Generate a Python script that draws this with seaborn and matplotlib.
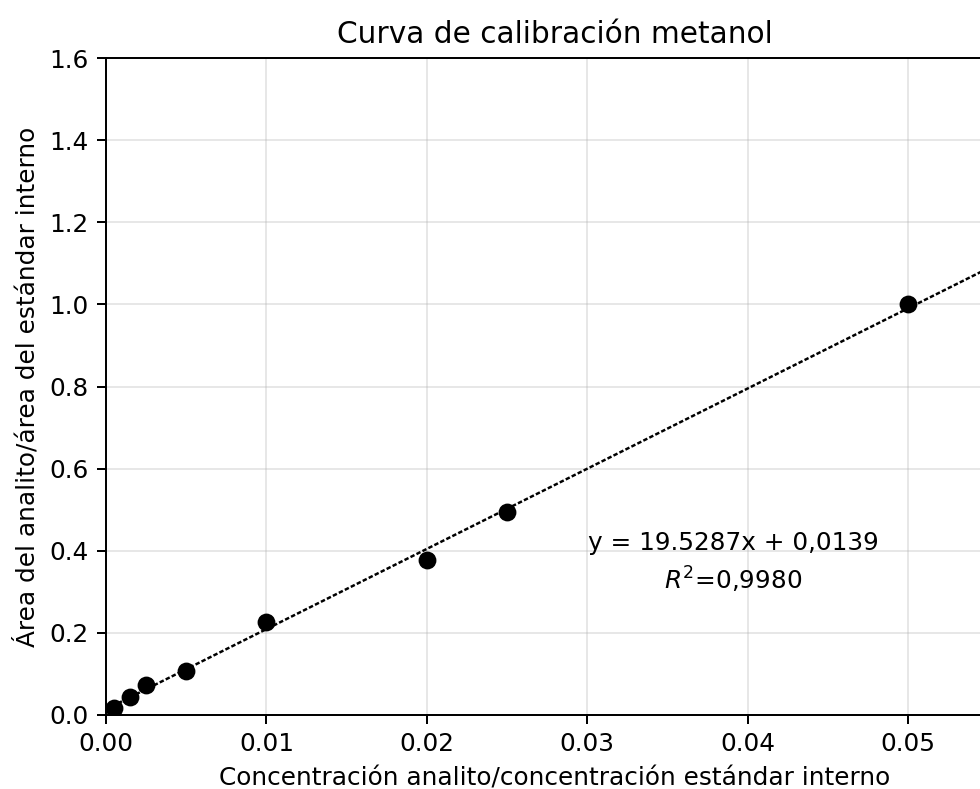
import numpy as np
import pandas as pd
import matplotlib
matplotlib.use("Agg")
import matplotlib.pyplot as plt
import seaborn as sns

# Calibration standards: concentration ratio vs. area ratio
conc_ratio = [0.0005, 0.0015, 0.0025, 0.005, 0.01, 0.02, 0.025, 0.05]
area_ratio = [0.017, 0.045, 0.073, 0.108, 0.226, 0.378, 0.495, 1.000]

# Linear fit reported on the chart
slope = 19.5287
intercept = 0.0139
r2 = 0.9980

x_ticks = [0.00, 0.01, 0.02, 0.03, 0.04, 0.05]
y_ticks = [0.0, 0.2, 0.4, 0.6, 0.8, 1.0, 1.2, 1.4, 1.6]
x_max = 0.056

df = pd.DataFrame({"conc": conc_ratio, "area": area_ratio})
fit_x = np.array([0.0, x_max])
fit_df = pd.DataFrame({"x": fit_x, "y": slope * fit_x + intercept})

dpi = 178
W, H = 980, 789
fig = plt.figure(figsize=(W / dpi, H / dpi), dpi=dpi)
left_px, top_px, bottom_px = 106, 58, 715
px_per_unit = (908 - 106) / 0.05
right_px = left_px + x_max * px_per_unit
ax = fig.add_axes([left_px / W, 1 - bottom_px / H,
                   (right_px - left_px) / W, (bottom_px - top_px) / H])

sns.lineplot(data=fit_df, x="x", y="y", ax=ax, color="black",
             linestyle=(0, (1.8, 0.9)), linewidth=1.0, zorder=2)
sns.scatterplot(data=df, x="conc", y="area", ax=ax, color="black",
                s=52, linewidth=0, zorder=3)

ax.set_xlim(0, x_max)
ax.set_ylim(0, 1.6)
ax.set_xticks(x_ticks)
ax.set_yticks(y_ticks)
ax.xaxis.set_major_formatter(matplotlib.ticker.FormatStrFormatter("%.2f"))
ax.yaxis.set_major_formatter(matplotlib.ticker.FormatStrFormatter("%.1f"))
ax.grid(True, alpha=0.3)
ax.set_axisbelow(True)

ax.set_title("Curva de calibración metanol", fontsize=12)
ax.set_xlabel("Concentración analito/concentración estándar interno")
ax.set_ylabel("Área del analito/área del estándar interno")

ax.text(0.0391, 0.42, f"y = {slope}x + {intercept:.4f}".replace("+ 0.", "+ 0,"),
        ha="center", va="center")
ax.text(0.0391, 0.33, "$R^2$=" + f"{r2:.4f}".replace(".", ","),
        ha="center", va="center")

fig.savefig("out.png", dpi=dpi)
